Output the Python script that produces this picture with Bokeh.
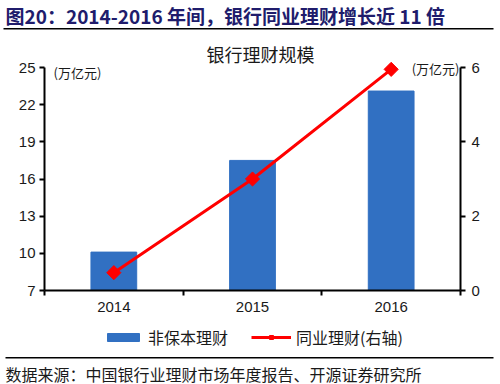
import numpy as np
from bokeh.plotting import figure
from bokeh.models import (Range1d, LinearAxis, FixedTicker,
                          Label, BoxAnnotation, Legend, LegendItem)
from bokeh.embed import file_html
from bokeh.resources import INLINE

# ---- data ----
years = ["2014", "2015", "2016"]
non_principal = [10.1, 17.5, 23.1]      # 非保本理财 (左轴, 万亿元)
interbank = [0.48, 3.0, 5.95]           # 同业理财 (右轴, 万亿元)
left_ticks = [7, 10, 13, 16, 19, 22, 25]
right_ticks = [0, 2, 4, 6]

TITLE = "图20：2014-2016 年间，银行同业理财增长近 11 倍"
CHART_TITLE = "银行理财规模"
UNIT = "(万亿元)"
SOURCE = "数据来源：中国银行业理财市场年度报告、开源证券研究所"
BAR_NAME = "非保本理财"
LINE_NAME = "同业理财(右轴)"

CJK = "Noto Sans CJK SC"
LAT = "Liberation Sans"
BLUE = "#3170c2"
RED = "#ff0000"
TXT = "#1a1a1a"

W = 500
H_HEAD, H_MAIN, H_FOOT = 34, 292, 58

def lab(fig, text, x, y, size, align="left", font=CJK, style="normal", color=TXT):
    fig.add_layout(Label(x=x, y=y, x_units="screen", y_units="screen", text=text,
                         text_font=font, text_font_size=size, text_align=align,
                         text_baseline="middle", text_font_style=style, text_color=color))

def rule(fig, left, right, bottom, top):
    fig.add_layout(BoxAnnotation(left=left, right=right, bottom=bottom, top=top,
                                 left_units="screen", right_units="screen",
                                 top_units="screen", bottom_units="screen",
                                 fill_color="black", fill_alpha=1, line_color=None))

def blank(h):
    f = figure(width=W, height=h, x_range=Range1d(0, W), y_range=Range1d(0, h),
               output_backend="svg", toolbar_location=None,
               x_axis_location=None, y_axis_location=None,
               min_border=0, min_border_left=0, min_border_right=0,
               min_border_top=0, min_border_bottom=0)
    f.grid.visible = False
    f.outline_line_color = None
    return f

# ---------------- header ----------------
head = blank(H_HEAD)
lab(head, TITLE, 5, H_HEAD - 15, "19px", style="bold", color="#201c6c")
rule(head, 3, 493, H_HEAD - 29, H_HEAD - 27.5)

# ---------------- main chart ----------------
plot_px = 223.0           # pixel height between lowest and highest tick
extra_px = 33.0           # extra frame room above the highest tick (chart title)
ext = extra_px / plot_px
l0, l1 = left_ticks[0], left_ticks[-1]
r0, r1 = right_ticks[0], right_ticks[-1]

xc_pos = [i + 0.5 for i in range(len(years))]
boundaries = list(range(len(years) + 1))

p = figure(width=W, height=H_MAIN, x_range=Range1d(0, len(years)),
           y_range=Range1d(l0, l1 + (l1 - l0) * ext),
           output_backend="svg", toolbar_location=None,
           x_axis_location=None, y_axis_location=None,
           min_border_left=44, min_border_right=40, min_border_top=0, min_border_bottom=36)
p.extra_y_ranges = {"right": Range1d(r0, r1 + (r1 - r0) * ext)}
p.grid.visible = False
p.outline_line_color = None

bars = p.vbar(x=xc_pos, top=non_principal, bottom=0, width=0.33, color=BLUE)
ln = p.line(x=xc_pos, y=interbank, line_color=RED, line_width=3, y_range_name="right")
mk = p.scatter(x=xc_pos, y=interbank, marker="square", angle=np.pi / 4, size=10,
               color=RED, y_range_name="right")

def style_axis(ax):
    ax.axis_line_width = 2
    ax.axis_line_color = "black"
    ax.major_tick_line_width = 2
    ax.major_tick_line_color = "black"
    ax.major_tick_in = 0
    ax.major_tick_out = 5
    ax.minor_tick_line_color = None
    ax.major_label_text_font = LAT
    ax.major_label_text_font_size = "15px"
    ax.major_label_text_color = TXT

yl = LinearAxis(ticker=FixedTicker(ticks=left_ticks), bounds=(l0, l1))
style_axis(yl)
yl.major_label_standoff = 4
p.add_layout(yl, "left")

yr = LinearAxis(y_range_name="right", ticker=FixedTicker(ticks=right_ticks), bounds=(r0, r1))
style_axis(yr)
yr.major_label_standoff = 6
p.add_layout(yr, "right")

# x axis: labels at category centres, tick marks (minor ticks) at category boundaries
xl = LinearAxis(ticker=FixedTicker(ticks=xc_pos, minor_ticks=boundaries),
                major_label_overrides={pos: y for pos, y in zip(xc_pos, years)})
style_axis(xl)
xl.major_tick_line_color = None
xl.minor_tick_line_color = "black"
xl.minor_tick_line_width = 2
xl.minor_tick_in = 0
xl.minor_tick_out = 5
xl.major_label_standoff = 6
p.add_layout(xl, "below")

lab(p, CHART_TITLE, 216, 237, "18px", align="center")
lab(p, UNIT, 9, 218, "13px")
lab(p, UNIT, 415, 222, "13px", align="right")

# ---------------- footer: legend + source ----------------
# the legend lives in its own strip; its entries reuse the series, drawn hidden
foot = blank(H_FOOT)
lb = foot.vbar(x=xc_pos, top=non_principal, width=0.33, color=BLUE, visible=False)
ll = foot.line(x=xc_pos, y=interbank, line_color=RED, line_width=3, visible=False)
lm = foot.scatter(x=xc_pos, y=interbank, marker="square", angle=np.pi / 4, size=10,
                  color=RED, visible=False)
legend = Legend(items=[LegendItem(label=BAR_NAME, renderers=[lb]),
                       LegendItem(label=LINE_NAME, renderers=[ll, lm])],
                location=(103, 35), orientation="horizontal",
                glyph_width=40, glyph_height=10, label_standoff=5, spacing=23,
                padding=0, margin=0, border_line_color=None, background_fill_alpha=0,
                inactive_fill_alpha=0,
                label_text_font=CJK, label_text_font_size="16px", label_text_color=TXT)
foot.add_layout(legend, "center")
rule(foot, 5, 493, 26, 27.5)
lab(foot, SOURCE, 5, 11, "16px")

open("out.html", "w").write(file_html([head, p, foot], INLINE))
